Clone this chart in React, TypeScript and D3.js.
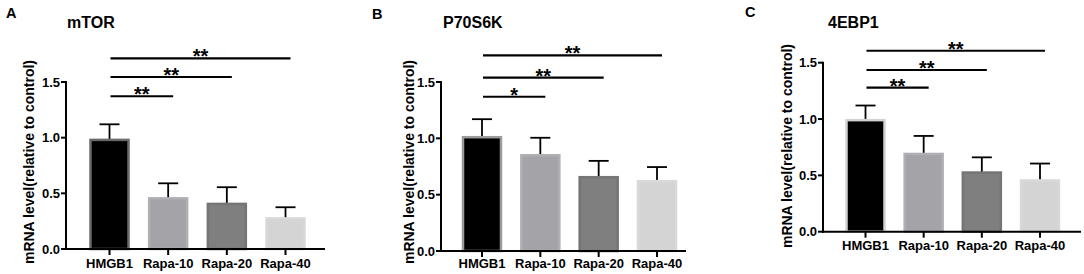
import React from "react";
import * as d3 from "d3";

const categories = ["HMGB1", "Rapa-10", "Rapa-20", "Rapa-40"];
const yTickValues = [0, 0.5, 1.0, 1.5];
const yTickLabels = ["0.0", "0.5", "1.0", "1.5"];

const mtorMeans = [0.98, 0.455, 0.405, 0.275];
const mtorErrors = [0.14, 0.135, 0.15, 0.10];
const mtorSig = [
  { a: 0, b: 1, y: 1.372, label: "**" },
  { a: 0, b: 2, y: 1.545, label: "**" },
  { a: 0, b: 3, y: 1.713, label: "**" },
];

const p70Means = [1.01, 0.85, 0.655, 0.62];
const p70Errors = [0.16, 0.155, 0.145, 0.125];
const p70Sig = [
  { a: 0, b: 1, y: 1.369, label: "*" },
  { a: 0, b: 2, y: 1.538, label: "**" },
  { a: 0, b: 3, y: 1.736, label: "**" },
];

const ebpMeans = [0.99, 0.69, 0.525, 0.455];
const ebpErrors = [0.13, 0.16, 0.135, 0.15];
const ebpSig = [
  { a: 0, b: 1, y: 1.278, label: "**" },
  { a: 0, b: 2, y: 1.435, label: "**" },
  { a: 0, b: 3, y: 1.606, label: "**" },
];

const titles = ["mTOR", "P70S6K", "4EBP1"];
const letters = ["A", "B", "C"];
const yLabel = "mRNA level(relative to control)";

const FONT = "'Liberation Sans', Arial, Helvetica, sans-serif";
const fillColors = ["#000000", "#a3a3a8", "#7f7f7f", "#d4d4d4"];
const strokeColors = ["#6a6a6a", "#b0b0b4", "#757575", "#d9d9d9"];

const panels = [
  {
    means: mtorMeans, errors: mtorErrors, sig: mtorSig, title: titles[0], letter: letters[0],
    axisX: 66, axisEnd: 325, firstC: 109.5, lastC: 285.5, y0: 249, y15: 82,
    titleX: 67, titleY: 28, letterX: 6, letterY: 18, yLabX: 29, yLabY: 162, xLabY: 268,
    hmgStroke: "#6a6a6a",
  },
  {
    means: p70Means, errors: p70Errors, sig: p70Sig, title: titles[1], letter: letters[1],
    axisX: 441, axisEnd: 686, firstC: 482, lastC: 657, y0: 251, y15: 82,
    titleX: 443, titleY: 28, letterX: 372, letterY: 18.5, yLabX: 409, yLabY: 162, xLabY: 268,
    hmgStroke: "#9c9c9c",
  },
  {
    means: ebpMeans, errors: ebpErrors, sig: ebpSig, title: titles[2], letter: letters[2],
    axisX: 823, axisEnd: 1081, firstC: 865.5, lastC: 1040, y0: 231.7, y15: 62.7,
    titleX: 828, titleY: 28, letterX: 745, letterY: 17, yLabX: 787, yLabY: 146, xLabY: 250,
    hmgStroke: "#d2d2d2",
  },
];

function Panel({ p }: { p: any }) {
  const x = d3.scalePoint<string>().domain(categories).range([p.firstC, p.lastC]);
  const y = d3.scaleLinear().domain([0, 1.5]).range([p.y0, p.y15]);
  const barW = 38;
  return (
    <g>
      <text x={p.letterX} y={p.letterY} fontSize={14.5} fontWeight="bold" fontFamily={FONT}>{p.letter}</text>
      <text x={p.titleX} y={p.titleY} fontSize={16} fontWeight="bold" fontFamily={FONT}>{p.title}</text>
      <text
        transform={`translate(${p.yLabX + 5},${p.yLabY}) rotate(-90)`}
        textAnchor="middle" fontSize={14} fontWeight="bold" fontFamily={FONT}
      >{yLabel}</text>
      {categories.map((c, i) => {
        const cx = x(c)!;
        const top = y(p.means[i]);
        const errTop = y(p.means[i] + p.errors[i]);
        return (
          <g key={c}>
            <line x1={cx} x2={cx} y1={top} y2={errTop} stroke="#000" strokeWidth={1.8} />
            <line x1={cx - 10} x2={cx + 10} y1={errTop} y2={errTop} stroke="#000" strokeWidth={1.8} />
            <rect
              x={cx - barW / 2} y={top} width={barW} height={y(0) - top}
              fill={fillColors[i]} stroke={i === 0 ? p.hmgStroke : strokeColors[i]} strokeWidth={2.5}
            />
          </g>
        );
      })}
      <line x1={p.axisX} x2={p.axisX} y1={y(0) + 1} y2={y(1.5) - 1} stroke="#000" strokeWidth={2} />
      {yTickValues.map((v, i) => (
        <g key={v}>
          <line x1={p.axisX - 5} x2={p.axisX} y1={y(v)} y2={y(v)} stroke="#000" strokeWidth={2} />
          <text x={p.axisX - 6} y={y(v) + 4.5} textAnchor="end" fontSize={13} fontWeight="bold" fontFamily={FONT}>{yTickLabels[i]}</text>
        </g>
      ))}
      <line x1={p.axisX - 1} x2={p.axisEnd} y1={y(0)} y2={y(0)} stroke="#000" strokeWidth={2} />
      {categories.map((c) => (
        <g key={c}>
          <line x1={x(c)} x2={x(c)} y1={y(0)} y2={y(0) + 6} stroke="#000" strokeWidth={2} />
          <text x={x(c)} y={p.xLabY} textAnchor="middle" fontSize={13} fontWeight="bold" fontFamily={FONT}>{c}</text>
        </g>
      ))}
      {p.sig.map((s: any, i: number) => {
        const x1 = x(categories[s.a])! + 1;
        const x2 = x(categories[s.b])! + 5;
        const yy = y(s.y);
        return (
          <g key={i}>
            <line x1={x1} x2={x2} y1={yy} y2={yy} stroke="#000" strokeWidth={2.2} />
            <text x={(x1 + x2) / 2} y={yy + 5} textAnchor="middle" fontSize={20} fontWeight="bold" fontFamily={FONT}>{s.label}</text>
          </g>
        );
      })}
    </g>
  );
}

export default function App() {
  return (
    <svg width={1084} height={274} style={{ position: "absolute", left: 0, top: 0, background: "#fff" }}>
      <rect width={1084} height={274} fill="#fff" />
      {panels.map((p, i) => <Panel key={i} p={p} />)}
    </svg>
  );
}
